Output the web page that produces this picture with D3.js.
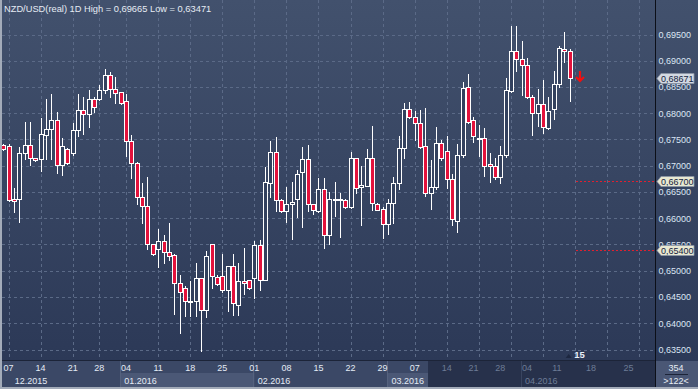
<!DOCTYPE html>
<html><head><meta charset="utf-8">
<script src="https://cdn.jsdelivr.net/npm/d3@7"></script>
<style>html,body{margin:0;padding:0;background:#2d3a56;overflow:hidden}svg{display:block}</style>
</head><body><svg id="c" width="698" height="389"></svg>
<script>
// ---- data (NZD/USD daily candles, one per slot) ----
const opens=[.67395,.67376,.66366,.66360,.67249,.67389,.67141,.67135,.67592,.67693,.67871,.67008,.67312,.67249,.67674,.68062,.67979,.68265,.68265,.68436,.68722,.68455,.68398,.68227,.67465,.67046,.66398,.66227,.65503,.65420,.65566,.65350,.65293,.64760,.64664,.64417,.64417,.64855,.64245,.65503,.64887,.64893,.64633,.65084,.64341,.64798,.64817,.64855,.65484,.64823,.66665,.67255,.66341,.66132,.66265,.66360,.66887,.67122,.66265,.66144,.66551,.65687,.66354,.66347,.66341,.66208,.67141,.66589,.66620,.67141,.66265,.66170,.65884,.66284,.66677,.67332,.68081,.67922,.67808,.67370,.66487,.66589,.67427,.67274,.66741,.65954,.67198,.68494,.67871,.67510,.67522,.67027,.66989,.66792,.67198,.68417,.69179,.69027,.68913,.68303,.68011,.68170,.67725,.68075,.68551,.69217,.69179];
const highs=[.67408,.67408,.66570,.67351,.67833,.67833,.67148,.67903,.68265,.68367,.68024,.67529,.67338,.67821,.68367,.68303,.68443,.68303,.68538,.68836,.68779,.68684,.68405,.68360,.67579,.67078,.66671,.66792,.65509,.65795,.65681,.65909,.65319,.64918,.64709,.64804,.65154,.64861,.65376,.65509,.64912,.65319,.65090,.65319,.65147,.65427,.64823,.65573,.65585,.66970,.67471,.67548,.66360,.66589,.66690,.66919,.67363,.67395,.66271,.66760,.66760,.66493,.66684,.66487,.66360,.67255,.67148,.66995,.67319,.67751,.66297,.66208,.66366,.66779,.67567,.68201,.68214,.68049,.68062,.68100,.67109,.67738,.67491,.67567,.66843,.67414,.68595,.68747,.67922,.67770,.67719,.67236,.67141,.67376,.68665,.69662,.69665,.69370,.69046,.68347,.68462,.68633,.68303,.68805,.69281,.69548,.69217];
const lows=[.67306,.66328,.66112,.65934,.67122,.67008,.67097,.66906,.67128,.67122,.66868,.66817,.67033,.67198,.67573,.67611,.67745,.68030,.68252,.68392,.68303,.68201,.68182,.67192,.66760,.66265,.65903,.65420,.65306,.65071,.65141,.65198,.64182,.63807,.64144,.64144,.64144,.63471,.64118,.64664,.64722,.64588,.64239,.64163,.64163,.64563,.64658,.64474,.64633,.64817,.66411,.66144,.66125,.65922,.65611,.66030,.65839,.66138,.66087,.66125,.65439,.65509,.66042,.65649,.66201,.66201,.66481,.65871,.66614,.66157,.66157,.65630,.65700,.65916,.66551,.67141,.67916,.67491,.67344,.66430,.66176,.66551,.67109,.66570,.65865,.65744,.67173,.67821,.67459,.67192,.66805,.66696,.66747,.66677,.67160,.68411,.68805,.68347,.68297,.67592,.67764,.67630,.67693,.67897,.68506,.68982,.68240];
const closes=[.67319,.66341,.66335,.67249,.67389,.67141,.67103,.67598,.67693,.67871,.67008,.67370,.67046,.67674,.68062,.67979,.68265,.68113,.68436,.68722,.68455,.68379,.68189,.67465,.67046,.66398,.66227,.65503,.65312,.65566,.65350,.65287,.64760,.64588,.64417,.64423,.64855,.64245,.65287,.64893,.64741,.64633,.65084,.64379,.64798,.64760,.64664,.65484,.64823,.66696,.67255,.66341,.66132,.66265,.66303,.66836,.67122,.66265,.66150,.66551,.65687,.66360,.66366,.66360,.66208,.67141,.66582,.66627,.67141,.66297,.66163,.65884,.66284,.66665,.67332,.68081,.67922,.67808,.67363,.66487,.66589,.67427,.67141,.66741,.65979,.67198,.68474,.67827,.67573,.67522,.66989,.66989,.66779,.67198,.68436,.69179,.69040,.68925,.68303,.67998,.68170,.67745,.68036,.68551,.69243,.69179,.68671];
const priceTicks=[0.635,0.640,0.645,0.650,0.655,0.660,0.665,0.670,0.675,0.680,0.685,0.690,0.695];
const weekGridSlots=[1,7,13,18,23,29,35,41,47,53,59,65,71,77,83,89,95,101,107,113,119];
const dayLabels=["07","14","21","28","04","11","18","25","01","08","15","22","29","07","14","21","28","04","11","18","25"];
const dayLabelSlots=[1,7,13,18,23,29,35,41,47,53,59,65,71,77,83,88,93,98,103.6,110,117];
const monthLabels=["12.2015","01.2016","02.2016","03.2016","04.2016"];
const monthStartSlots=[1.5,22,47,72,97];
const levelLines=[0.667,0.654];
const lastPrice=0.68671;
const title="NZD/USD(real) 1D High = 0,69665 Low = 0,63471";
const totalSlots=122, dimFromSlot=79.5;

// ---- layout ----
const W=698,H=389, plotR=655, plotB=360, axB=387;
const svg=d3.select('#c');
const defs=svg.append('defs');
const lg=defs.append('linearGradient').attr('id','bg').attr('gradientUnits','userSpaceOnUse')
  .attr('x1',0).attr('y1',0).attr('x2',0).attr('y2',plotB);
lg.append('stop').attr('offset','0%').attr('stop-color','#42516d');
lg.append('stop').attr('offset','100%').attr('stop-color','#2c3957');

const x=d3.scaleLinear().domain([-0.5,totalSlots-0.5]).range([0.5,652.5]);
const y=d3.scaleLinear().domain([0.635,0.695]).range([349.5,34.5]);
const fmt=v=>d3.format('.5f')(v).replace('.',',');
const FONT='"Liberation Sans", Arial, sans-serif';

svg.append('rect').attr('width',W).attr('height',plotB+1).attr('fill','url(#bg)');

// grid
const grid=svg.append('g').attr('stroke','#5b6a87').attr('stroke-dasharray','3,3').attr('stroke-width',1);
grid.selectAll('line.h').data(priceTicks).join('line').attr('class','h')
  .attr('x1',2).attr('x2',plotR).attr('y1',d=>Math.round(y(d))+0.5).attr('y2',d=>Math.round(y(d))+0.5);
grid.selectAll('line.v').data(weekGridSlots).join('line').attr('class','v')
  .attr('y1',0).attr('y2',plotB).attr('x1',d=>Math.round(x(d))+0.5).attr('x2',d=>Math.round(x(d))+0.5);

// title
svg.append('text').attr('x',4).attr('y',12).attr('fill','#e6ecf4').attr('font-family',FONT)
  .attr('font-size',9.3).text(title);

// candles
const candles=opens.map((o,i)=>({i,o,h:highs[i],l:lows[i],c:closes[i]}));
const cg=svg.append('g');
const cx=d=>Math.round(x(d.i))+0.5;
cg.selectAll('line.w').data(candles).join('line').attr('class','w')
  .attr('x1',cx).attr('x2',cx).attr('y1',d=>Math.round(y(d.h))).attr('y2',d=>Math.round(y(d.l))+1)
  .attr('stroke','#ffffff').attr('stroke-width',1);
cg.selectAll('rect.b').data(candles).join('rect').attr('class','b')
  .attr('x',d=>cx(d)-2).attr('width',4)
  .attr('y',d=>Math.round(y(Math.max(d.o,d.c)))+0.5)
  .attr('height',d=>Math.max(1,Math.round(y(Math.min(d.o,d.c)))-Math.round(y(Math.max(d.o,d.c)))))
  .attr('fill',d=>d.c>=d.o?'#33415e':'#e3123c').attr('stroke','#ffffff').attr('stroke-width',1);

// level lines (dotted red), drawn above candles
const lvl=svg.append('g').attr('fill','#e02030');
levelLines.forEach(v=>{
  const ly=Math.round(y(v));
  lvl.selectAll(null).data(d3.range(576,plotR,4)).enter().append('rect')
    .attr('x',d=>d).attr('y',ly).attr('width',2).attr('height',1);
});

// sell arrow
const last=candles[candles.length-1];
const ax=Math.round(x(last.i))+10, ay=Math.round(y(last.c));
svg.append('path').attr('d',`M${ax},${ay-7} L${ax},${ay+3} M${ax-4},${ay-1} L${ax},${ay+3} L${ax+4},${ay-1}`)
  .attr('stroke','#f01010').attr('stroke-width',2.2).attr('fill','none');

// marker "15"
svg.append('path').attr('d',`M${x(last.i)-4},358 l3,-4 l3,4 z`).attr('fill','#1d2740');
svg.append('text').attr('x',x(last.i)+4.5).attr('y',358).attr('fill','#e8f0fa').attr('font-family',FONT)
  .attr('font-size',9.5).attr('font-weight','bold').text('15');

// right axis panel
svg.append('rect').attr('x',plotR).attr('y',0).attr('width',W-plotR).attr('height',plotB+1).attr('fill','url(#bg)');
svg.append('line').attr('x1',plotR+0.5).attr('x2',plotR+0.5).attr('y1',0).attr('y2',plotB+1).attr('stroke','#0c0f18');
svg.append('g').selectAll('text').data(priceTicks).join('text')
  .attr('x',658.5).attr('y',d=>y(d)+3.3).attr('fill','#dce6f4').attr('font-family',FONT).attr('font-size',9)
  .text(fmt);

// price tags
const tags=[{v:lastPrice,bg:'#d3d9e2'},{v:levelLines[0],bg:'#e8e8d2'},{v:levelLines[1],bg:'#e8e8d2'}];
const tg=svg.append('g');
tags.forEach(t=>{
  const ty=Math.round(y(t.v))+0.5;
  tg.append('path').attr('d',`M657,${ty} L661,${ty-5} L694,${ty-5} L694,${ty+5} L661,${ty+5} Z`)
    .attr('fill',t.bg).attr('stroke','#8c95a6').attr('stroke-width',0.8);
  tg.append('text').attr('x',661).attr('y',ty+3.3).attr('fill','#142340').attr('font-family',FONT)
    .attr('font-size',9).text(fmt(t.v));
});

// bottom axis
const axg=svg.append('g');
axg.append('rect').attr('x',0).attr('y',plotB+1).attr('width',plotR).attr('height',axB-plotB-1).attr('fill','#3b4866');
axg.append('line').attr('x1',0).attr('x2',plotR).attr('y1',plotB+0.5).attr('y2',plotB+0.5).attr('stroke','#1c2438');
const mb=monthStartSlots.map((s,k)=>({s:k===0?-0.5:s,e:k<monthStartSlots.length-1?monthStartSlots[k+1]:totalSlots,k}));
axg.selectAll('rect.m').data(mb.filter(d=>d.k%2===1)).join('rect').attr('class','m')
  .attr('x',d=>x(d.s)).attr('y',373).attr('width',d=>x(d.e)-x(d.s)).attr('height',axB-373).attr('fill','#4b5876');
axg.selectAll('line.sep').data(mb.slice(1)).join('line').attr('class','sep')
  .attr('x1',d=>Math.round(x(d.s))-0.5).attr('x2',d=>Math.round(x(d.s))-0.5).attr('y1',plotB+1).attr('y2',axB)
  .attr('stroke','#55627e');
axg.append('rect').attr('x',x(dimFromSlot)).attr('y',plotB+1).attr('width',plotR-x(dimFromSlot)).attr('height',axB-plotB-1)
  .attr('fill','#27314b');
axg.append('line').attr('x1',Math.round(x(97))-0.5).attr('x2',Math.round(x(97))-0.5).attr('y1',plotB+1).attr('y2',axB).attr('stroke','#3a4560');
axg.selectAll('text.d').data(dayLabels).join('text').attr('class','d')
  .attr('x',(d,k)=>x(dayLabelSlots[k])).attr('y',371).attr('text-anchor','middle')
  .attr('fill',(d,k)=>x(dayLabelSlots[k])>x(dimFromSlot)?'#6d7c96':'#e4ebf5')
  .attr('font-family',FONT).attr('font-size',9).text(d=>d);
axg.selectAll('text.mo').data(monthLabels).join('text').attr('class','mo')
  .attr('x',(d,k)=>x(monthStartSlots[k])+3.5).attr('y',383.5)
  .attr('fill',(d,k)=>x(monthStartSlots[k])>x(dimFromSlot)?'#6d7c96':'#e4ebf5')
  .attr('font-family',FONT).attr('font-size',9).text(d=>d);

// bottom right counter box
svg.append('rect').attr('x',plotR+1).attr('y',plotB+1).attr('width',W-plotR-1).attr('height',axB-plotB-1).attr('fill','#4a5775');
svg.append('line').attr('x1',plotR+0.5).attr('x2',plotR+0.5).attr('y1',plotB).attr('y2',axB).attr('stroke','#0c0f18');
svg.append('text').attr('x',676).attr('y',371).attr('text-anchor','middle').attr('fill','#e8eef6').attr('font-family',FONT).attr('font-size',9).text('354');
svg.append('line').attr('x1',665).attr('x2',688).attr('y1',374.5).attr('y2',374.5).attr('stroke','#1c2438');
svg.append('text').attr('x',676).attr('y',383.5).attr('text-anchor','middle').attr('fill','#e8eef6').attr('font-family',FONT).attr('font-size',9).text('>122<');

// frame
svg.append('rect').attr('x',0).attr('y',0).attr('width',2).attr('height',H).attr('fill','#a3abb9');
svg.append('rect').attr('x',0).attr('y',axB).attr('width',W).attr('height',H-axB).attr('fill','#a3abb9');
</script></body></html>
